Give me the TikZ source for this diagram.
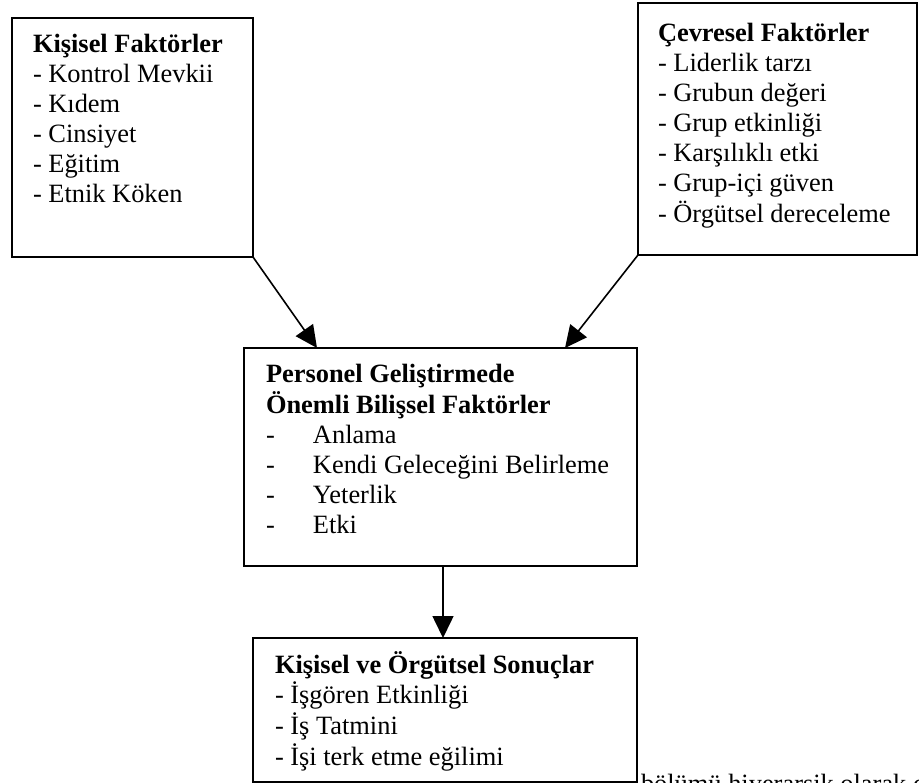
\documentclass[tikz,border=0pt]{standalone}
\usepackage{fontspec}
\setmainfont{Liberation Serif}
\usetikzlibrary{arrows.meta}
\begin{document}
\begin{tikzpicture}[x=1pt,y=-1pt,
  box/.style={draw, line width=1.6pt, rectangle, inner sep=0pt, outer sep=0pt, anchor=north west},
  txt/.style={anchor=base west, inner sep=0pt, outer sep=0pt, font=\fontsize{26.4}{30}\selectfont},
  arr/.style={line width=1.6pt, -{Triangle[length=22pt,width=21pt]}}]
\useasboundingbox (0,0) rectangle (919,783);
\clip (0,0) rectangle (919,783);
\fill[white] (0,0) rectangle (919,783);
% boxes
\node[box, minimum width=241pt, minimum height=239pt] (b1) at (12,18) {};
\node[box, minimum width=279pt, minimum height=252pt] (b2) at (638,3) {};
\node[box, minimum width=393pt, minimum height=218pt] (b3) at (244,348) {};
\node[box, minimum width=384pt, minimum height=144pt] (b4) at (253,638) {};
% texts
\node[txt] (t1) at (33,53) {\begin{tabular}[t]{@{}l@{}}\textbf{Kişisel Faktörler}\\- Kontrol Mevkii\\- Kıdem\\- Cinsiyet\\- Eğitim\\- Etnik Köken\end{tabular}};
\node[txt] (t2) at (658,42) {\begin{tabular}[t]{@{}l@{}}\textbf{Çevresel Faktörler}\\- Liderlik tarzı\\- Grubun değeri\\- Grup etkinliği\\- Karşılıklı etki\\- Grup-içi güven\\- Örgütsel dereceleme\end{tabular}};
\node[txt] (t3) at (266,383) {\begin{tabular}[t]{@{}l@{}}\textbf{Personel Geliştirmede}\\\textbf{Önemli Bilişsel Faktörler}\\\makebox[47pt][l]{-}Anlama\\\makebox[47pt][l]{-}Kendi Geleceğini Belirleme\\\makebox[47pt][l]{-}Yeterlik\\\makebox[47pt][l]{-}Etki\end{tabular}};
\node[txt] (t4) at (275,673) {\begin{tabular}[t]{@{}l@{}}\textbf{Kişisel ve Örgütsel Sonuçlar}\\- İşgören Etkinliği\\- İş Tatmini\\- İşi terk etme eğilimi\end{tabular}};
\node[txt] (cut) at (641,792) {bölümü hiyerarşik olarak ç};
% connectors
\coordinate (x1) at (317,0);
\coordinate (x2) at (565,0);
\coordinate (x3) at (443,0);
\draw[arr] (b1.south east) -- (b3.north -| x1);
\draw[arr] (b2.south west) -- (b3.north -| x2);
\draw[arr] (b3.south -| x3) -- (b4.north -| x3);
\end{tikzpicture}
\end{document}
